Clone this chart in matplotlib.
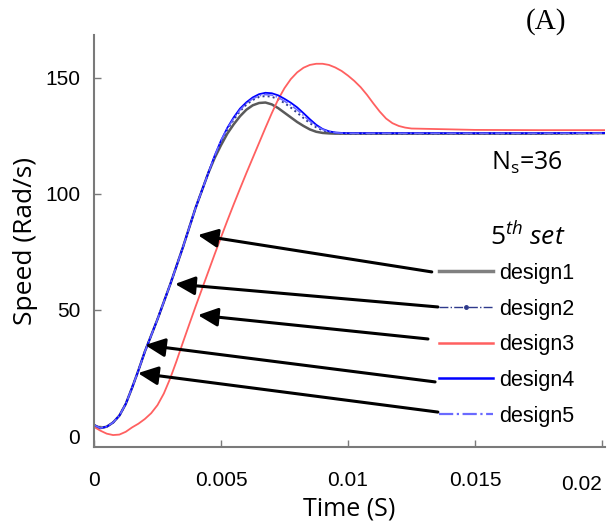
import numpy as np
import matplotlib
matplotlib.use("Agg")
import matplotlib.pyplot as plt
from matplotlib.lines import Line2D
from matplotlib.transforms import ScaledTranslation

# 数据
# 时间采样点: 0 ~ 0.0125 每 0.00025 一个, 之后几个稀疏点
t = list(np.round(np.arange(0, 0.01251, 0.00025), 5)) + [0.015, 0.0175, 0.0201]

# 0 ~ 0.0045 段, design1/2/4/5 几乎重合
rise = [0.4, -0.9, -0.3, 1.5, 4.5, 9.5, 16.5, 24, 32, 39,
        46, 53.5, 61, 69, 77, 85.5, 94, 101.5, 109]

design1 = rise + [115.5, 121, 126, 130, 133.5, 136.3, 138.2, 139.2, 139.4, 138.6,
                  137, 135, 133, 131, 129.3, 127.8, 126.8, 126.3, 126.1, 126, 126] \
    + [126] * 13 + [126.2]
design2 = rise + [116, 122.5, 127.8, 132, 135.7, 138.5, 140.5, 141.8, 142.2, 141.9,
                  140.8, 139.2, 137.2, 135, 132.7, 130.5, 128.7, 127.4, 126.7, 126.3, 126.1] \
    + [126] * 13 + [126.2]
design3 = [-0.4, -2, -3.3, -3.9, -3.7, -2.5, -0.6, 1.0, 3.0, 5.5,
           9.0, 14.0, 20.5, 28, 36, 43.8, 51.5, 59, 66.5, 74,
           81.3, 88.5, 95.5, 102.3, 109, 115.5, 122, 128.5, 134.8, 140.7,
           145.6, 149.5, 152.4, 154.4, 155.6, 156.1, 156.1, 155.6, 154.5, 153,
           151, 148.7, 146, 142.7, 139, 135.5, 132.5, 130.5, 129.3, 128.6,
           128.2, 127.6, 127.5, 127.5]
design4 = rise + [116.5, 123, 128.5, 133, 136.8, 139.5, 141.6, 143, 143.6, 143.4,
                  142.5, 141, 139.3, 137.3, 134.8, 132.2, 129.8, 128, 127, 126.5, 126.3] \
    + [126.2] * 13 + [126.3]
design5 = rise + [116.3, 123, 128.2, 132.5, 136.2, 139, 141, 142.3, 142.8, 142.6,
                  141.6, 140, 138.2, 136.2, 133.8, 131.3, 129.3, 127.8, 126.9, 126.4, 126.2] \
    + [126.1] * 13 + [126.2]

names = ["design1", "design2", "design3", "design4", "design5"]
series = [design1, design2, design3, design4, design5]
colors = ["#5a5a5a", "#2e3a8c", "#ff6060", "#0000ff", "#6a6aff"]
styles = ["-", ":", "-", "-", "-."]
widths = [1.8, 1.4, 1.3, 1.3, 1.1]

# 箭头: (箭尾, 箭头) 数据坐标
arrow_tail = [(0.0133, 66.4), (0.01354, 51.3), (0.01315, 37.5), (0.01343, 19.0), (0.01354, 6.0)]
arrow_head = [(0.00409, 82.3), (0.00319, 61.2), (0.00409, 47.8), (0.00201, 34.9), (0.00173, 22.8)]

xticks = [0, 0.005, 0.01, 0.015, 0.02]
xticklabels = ["0", "0.005", "0.01", "0.015", "0.02"]
yticks = [0, 50, 100, 150]

plt.rcParams['font.family'] = ['Liberation Sans', 'DejaVu Sans']
plt.rcParams['mathtext.fontset'] = 'custom'
plt.rcParams['mathtext.rm'] = 'Open Sans'
plt.rcParams['mathtext.it'] = 'Open Sans:italic'

fig = plt.figure(figsize=(6.11, 5.21), dpi=100)
ax = fig.add_axes([94 / 611, 1 - 447 / 521, 511 / 611, 412 / 521])

for vals, c, ls, lw in zip(series, colors, styles, widths):
    ax.plot(t, vals, color=c, linestyle=ls, linewidth=lw)

ax.set_xlim(0, 0.02012)
ax.set_ylim(-9.05, 168.5)

for s in ["top", "right"]:
    ax.spines[s].set_visible(False)
for s in ["left", "bottom"]:
    ax.spines[s].set_color("#7a7a7a")
    ax.spines[s].set_linewidth(1.5)

ax.set_xticks(xticks)
ax.set_xticklabels(xticklabels)
ax.set_yticks(yticks)
ax.tick_params(direction="in", length=5, width=1, colors="#7a7a7a",
               labelcolor="black", labelsize=15)
ax.tick_params(axis="x", pad=17)
ax.tick_params(axis="y", pad=10)
xl = ax.get_xticklabels()
xl[-1].set_horizontalalignment("right")
xl[-1].set_transform(xl[-1].get_transform() + ScaledTranslation(0, -0.04, fig.dpi_scale_trans))
yl = ax.get_yticklabels()
yl[0].set_transform(yl[0].get_transform() + ScaledTranslation(0, -0.11, fig.dpi_scale_trans))

ax.set_xlabel("Time (S)", family="Open Sans", fontsize=18, labelpad=2)
ax.set_ylabel("Speed (Rad/s)", family="Open Sans", fontsize=19, labelpad=5)

for tail, head in zip(arrow_tail, arrow_head):
    ax.annotate("", xy=head, xytext=tail,
                arrowprops=dict(arrowstyle="-|>,head_length=0.6,head_width=0.28",
                                color="black", lw=2.2, mutation_scale=20,
                                shrinkA=0, shrinkB=0))

handles = []
for name, c, ls, lw in zip(names, colors, styles, widths):
    if name == "design2":
        handles.append(Line2D([], [], color=c, linestyle="-.", linewidth=1.0,
                              marker=".", markersize=5, label=name))
    elif name == "design1":
        handles.append(Line2D([], [], color="#808080", linestyle=ls, linewidth=2.5, label=name))
    else:
        handles.append(Line2D([], [], color=c, linestyle=ls, linewidth=lw + 0.5, label=name))

leg = ax.legend(handles=handles, loc="upper left", frameon=False, fontsize=15.5,
                handlelength=2.5, handletextpad=0.3, labelspacing=0.68,
                borderpad=0, borderaxespad=0, numpoints=1,
                bbox_to_anchor=(439 / 611, 1 - 263 / 521), bbox_transform=fig.transFigure)

fig.text(528 / 611, 1 - 237 / 521, r"$\mathit{5^{th}}$ set", family="Open Sans",
         style="italic", fontsize=19, ha="center", va="center")
fig.text(527 / 611, 1 - 163 / 521, r"N$_\mathrm{s}$=36", family="Open Sans",
         fontsize=18, ha="center", va="center")
fig.text(546 / 611, 1 - 22 / 521, "(A)", family="Liberation Serif",
         fontsize=21, ha="center", va="center")

fig.savefig("out.png", dpi=100)
